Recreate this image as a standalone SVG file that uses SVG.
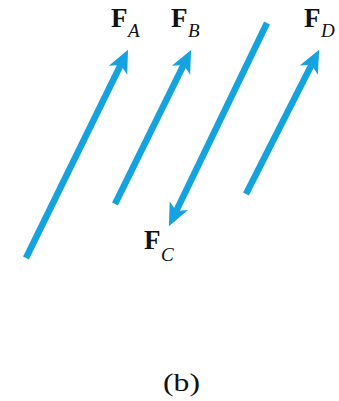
<svg xmlns="http://www.w3.org/2000/svg" width="339" height="401" viewBox="0 0 339 401">
<style>
.v{stroke:#14a3df;stroke-width:6.5;fill:none;marker-end:url(#ah)}
.F{font-family:"Liberation Serif",serif;font-weight:bold;font-size:27px;fill:#111}
.s{font-family:"Liberation Serif",serif;font-style:italic;font-size:19px;fill:#111}
.cap{font-family:"Liberation Serif",serif;font-size:25px;fill:#111}
</style>
<defs>
<marker id="ah" markerUnits="userSpaceOnUse" markerWidth="30" markerHeight="30" viewBox="-10 -10 25 20" refX="0" refY="0" orient="auto">
<path d="M12,0 L-7,-8.5 L-2,0 L-7,8.5 Z" fill="#14a3df"/>
</marker>
</defs>
<rect width="339" height="401" fill="#fff"/>
<g id="connectors">
<line class="v" x1="26" y1="258" x2="121.7" y2="62.8"/>
<line class="v" x1="115" y1="204" x2="184.7" y2="62.8"/>
<line class="v" x1="267" y1="23" x2="175.2" y2="213.2"/>
<line class="v" x1="246" y1="194" x2="312.6" y2="62.7"/>
</g>
<g id="FA"><text x="111" y="27" class="F">F</text><text x="128" y="37" class="s">A</text></g>
<g id="FB"><text x="171" y="27" class="F">F</text><text x="188" y="37" class="s">B</text></g>
<g id="FC"><text x="144" y="249" class="F">F</text><text x="161" y="261" class="s">C</text></g>
<g id="FD"><text x="304" y="27" class="F">F</text><text x="321" y="37" class="s">D</text></g>
<text x="163" y="391" class="cap" textLength="37" lengthAdjust="spacingAndGlyphs">(b)</text>
</svg>
